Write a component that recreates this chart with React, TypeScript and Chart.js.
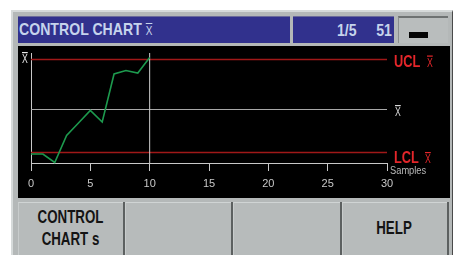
import { useEffect, useRef } from "react";
import { Chart, registerables } from "chart.js";

Chart.register(...registerables);

// ---- data ----
const SAMPLES = [0, 1, 2, 3, 4, 5, 6, 7, 8, 9, 10];
const XBAR_VALUES = [0.9, 0.9, 0.05, 2.75, 4.0, 5.25, 4.1, 8.9, 9.25, 9.0, 10.55];
const UCL = 10.35;
const CENTER = 5.35;
const LCL = 1.05;
const X_MIN = 0;
const X_MAX = 30;
const X_STEP = 5;
const Y_MIN = 0;
const Y_MAX = 11;
const CURSOR = 10;
const TITLE = "CONTROL CHART";
const XBAR = "X";
const PAGE_TEXT = "1/5";
const COUNT_TEXT = "51";
const UCL_TEXT = "UCL";
const LCL_TEXT = "LCL";
const SAMPLES_TEXT = "Samples";
const BUTTONS = ["CONTROL\nCHART s", "", "", "HELP"];

const FONT = "'Liberation Sans', Arial, sans-serif";

const labelsPlugin = {
  id: "ccLabels",
  afterDraw(chart: any) {
    const { ctx, chartArea, scales } = chart;
    const ys = scales.y;
    const right = chartArea.right;
    const left = chartArea.left;
    const bottom = chartArea.bottom;

    const narrow = (text: string, x: number, base: number, font: string, color: string, sx: number) => {
      ctx.save();
      ctx.translate(x, base);
      ctx.scale(sx, 1);
      ctx.font = font;
      ctx.fillStyle = color;
      ctx.textAlign = "left";
      ctx.textBaseline = "alphabetic";
      ctx.fillText(text, 0, 0);
      const w = ctx.measureText(text).width * sx;
      ctx.restore();
      return w;
    };
    const xbar = (x: number, base: number, color: string) => {
      const w = narrow(XBAR, x, base, `12px ${FONT}`, color, 0.72);
      ctx.save();
      ctx.fillStyle = color;
      ctx.fillRect(x, base - 11, w, 1.2);
      ctx.restore();
    };

    const red = "#e5262a";
    const yU = ys.getPixelForValue(UCL);
    const yC = ys.getPixelForValue(CENTER);
    const yL = ys.getPixelForValue(LCL);

    narrow(UCL_TEXT, right + 7, yU + 7, `bold 16px ${FONT}`, red, 0.8);
    xbar(right + 40, yU + 7, red);

    xbar(right + 8, yC + 6.5, "#d8d8d8");

    narrow(LCL_TEXT, right + 7, yL + 10.5, `bold 16px ${FONT}`, red, 0.8);
    xbar(right + 38, yL + 10.5, red);

    xbar(left - 9, chartArea.top + 10, "#e8e8e8");

    narrow(SAMPLES_TEXT, right + 3, bottom + 10.5, `10px ${FONT}`, "#b8b8b8", 0.93);
  },
};

function ChartCanvas() {
  const ref = useRef<HTMLCanvasElement | null>(null);
  useEffect(() => {
    if (!ref.current) return;
    const chart = new Chart(ref.current, {
      type: "line",
      data: {
        datasets: [
          {
            data: SAMPLES.map((s, i) => ({ x: s, y: XBAR_VALUES[i] })),
            borderColor: "#1d9a4e",
            borderWidth: 1.6,
            pointRadius: 0,
            tension: 0,
            clip: false,
          },
          {
            data: [
              { x: CURSOR, y: Y_MIN },
              { x: CURSOR, y: Y_MAX },
            ],
            borderColor: "#d0d0d0",
            borderWidth: 1,
            pointRadius: 0,
            clip: false,
          },
          {
            data: [
              { x: X_MIN, y: UCL },
              { x: X_MAX, y: UCL },
            ],
            borderColor: "#a01818",
            backgroundColor: "#a01818",
            borderWidth: 1.5,
            pointRadius: 0,
            clip: false,
          },
          {
            data: [
              { x: X_MIN, y: CENTER },
              { x: X_MAX, y: CENTER },
            ],
            borderColor: "#a8a8a8",
            borderWidth: 1,
            pointRadius: 0,
            clip: false,
          },
          {
            data: [
              { x: X_MIN, y: LCL },
              { x: X_MAX, y: LCL },
            ],
            borderColor: "#a01818",
            backgroundColor: "#a01818",
            borderWidth: 1.5,
            pointRadius: 0,
            clip: false,
          },
        ],
      } as any,
      options: {
        animation: false,
        responsive: false,
        maintainAspectRatio: false,
        layout: { padding: { left: 12, right: 62, top: 6, bottom: 0 } },
        plugins: { legend: { display: false }, tooltip: { enabled: false } },
        scales: {
          x: {
            type: "linear",
            min: X_MIN,
            max: X_MAX,
            position: "bottom",
            ticks: {
              stepSize: X_STEP,
              color: "#c8c8c8",
              font: { family: FONT, size: 11 },
              padding: 6,
              maxRotation: 0,
              autoSkip: false,
            },
            grid: { drawOnChartArea: false, drawTicks: true, tickLength: 8, color: "#c8c8c8", lineWidth: 1 },
            border: { display: true, color: "#c8c8c8", width: 1 },
            afterFit: (s: any) => {
              s.height = 34;
            },
          },
          y: {
            type: "linear",
            min: Y_MIN,
            max: Y_MAX,
            position: "left",
            ticks: { display: false },
            grid: { display: false, drawTicks: false },
            border: { display: true, color: "#c8c8c8", width: 1 },
            afterFit: (s: any) => {
              s.width = 0;
            },
          },
        },
      } as any,
      plugins: [labelsPlugin],
    });
    return () => chart.destroy();
  }, []);
  return (
    <canvas
      ref={ref}
      width={430}
      height={150}
      style={{ position: "absolute", left: 19, top: 47, width: 430, height: 150, background: "#000" }}
    />
  );
}

const abs = (l: number, t: number, w: number, h: number, extra: any = {}) => ({
  position: "absolute" as const,
  left: l,
  top: t,
  width: w,
  height: h,
  boxSizing: "border-box" as const,
  ...extra,
});

export default function App() {
  const blue = "#31318d";
  const textBlue = "#c6d4ec";
  const btnBg = "#b7bbbb";
  const btns = [
    [18, 105],
    [125, 106],
    [233, 107],
    [342, 105],
  ];
  return (
    <div style={{ position: "absolute", left: 0, top: 0, width: 458, height: 255, background: "#fff", overflow: "hidden", fontFamily: FONT }}>
      {/* outer panel */}
      <div style={abs(11, 10, 442, 245, { background: "#b4b8b8", borderLeft: "2px solid #d6dada", borderTop: "2px solid #d6dada", borderRight: "1px solid #4a4a4a" })} />
      {/* header boxes */}
      <div style={abs(18, 16, 272, 27, { background: blue, borderTop: "1px solid #6a6a9a" })} />
      <div style={abs(293, 16, 101, 27, { background: blue, borderTop: "1px solid #6a6a9a" })} />
      <div style={abs(398, 16, 50, 27, { background: "#b9bdbd", borderTop: "2px solid #6e7272", borderLeft: "1px solid #8a8e8e" })} />
      <div style={abs(409, 32, 19, 6, { background: "#050505" })} />
      {/* title */}
      <div style={{ position: "absolute", left: 19, top: 20.6, whiteSpace: "pre", transform: "scaleX(0.83)", transformOrigin: "left top", color: textBlue, fontWeight: "bold", fontSize: 17, lineHeight: 1 }}>
        {TITLE + " "}
        <span style={{ fontSize: 12, fontWeight: "normal", textDecoration: "overline" }}>{XBAR}</span>
      </div>
      <div style={{ position: "absolute", right: 101, top: 22.3, whiteSpace: "pre", transform: "scaleX(0.83)", transformOrigin: "right top", color: textBlue, fontWeight: "bold", fontSize: 17, lineHeight: 1 }}>
        {PAGE_TEXT}
      </div>
      <div style={{ position: "absolute", right: 66, top: 22.3, whiteSpace: "pre", transform: "scaleX(0.83)", transformOrigin: "right top", color: textBlue, fontWeight: "bold", fontSize: 17, lineHeight: 1 }}>
        {COUNT_TEXT}
      </div>
      {/* chart */}
      <div style={abs(18, 46, 432, 152, { background: "#000" })} />
      <ChartCanvas />
      {/* buttons */}
      {btns.map(([l, w], i) => (
        <div key={i} style={abs(l, 202, w, 53, { background: btnBg, borderTop: "1px solid #d0d4d4", borderLeft: "1px solid #c8cccc" })} />
      ))}
      {[123, 231, 340, 447].map((x, i) => (
        <div key={"s" + i} style={abs(x, 202, 2, 53, { background: "#5c6060" })} />
      ))}
      {btns.map(([l, w], i) => {
        const lines = BUTTONS[i].split("\n").filter((s) => s.length > 0);
        if (lines.length === 0) return null;
        const top = lines.length === 2 ? 205.7 : 219;
        const lh = lines.length === 2 ? "22.7px" : "18px";
        return (
          <div key={"t" + i} style={{ position: "absolute", left: l, top, width: w, textAlign: "center", fontWeight: "bold", fontSize: 18, lineHeight: lh, color: "#141414" }}>
            <span style={{ display: "inline-block", transform: "scaleX(0.74)", transformOrigin: "center top", whiteSpace: "pre" }}>
              {lines.join("\n")}
            </span>
          </div>
        );
      })}
    </div>
  );
}
